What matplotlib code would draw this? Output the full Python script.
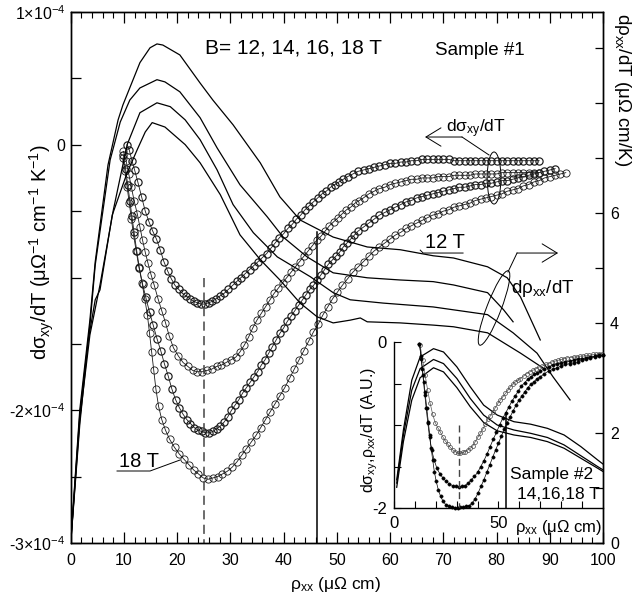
import numpy as np
import matplotlib
matplotlib.use('Agg')
import matplotlib.pyplot as plt
from matplotlib.patches import Ellipse
from matplotlib.lines import Line2D
from matplotlib.ticker import MultipleLocator, FixedLocator

plt.rcParams['font.family'] = ['Liberation Sans', 'DejaVu Sans']
plt.rcParams['mathtext.fontset'] = 'custom'
plt.rcParams['mathtext.rm'] = 'Liberation Sans'
plt.rcParams['mathtext.it'] = 'Liberation Sans:italic'
plt.rcParams['mathtext.bf'] = 'Liberation Sans:bold'

# ---------------- data: main panel ----------------
# d(sigma_xy)/dT, left axis, in units of 1e-4 (uOhm^-1 cm^-1 K^-1), vs rho_xx
sxy_12T = [(10.6,0.0),(11.0,-0.04),(11.5,-0.12),(12.0,-0.19),(12.6,-0.28),(13.3,-0.39),
    (14.0,-0.50),(14.7,-0.58),(15.4,-0.65),(16.1,-0.71),(16.8,-0.79),(17.5,-0.88),(18.2,-0.95),
    (18.9,-1.01),(19.6,-1.06),(20.3,-1.09),(21.0,-1.12),(21.7,-1.14),(22.4,-1.16),(23.1,-1.18),
    (23.8,-1.19),(24.5,-1.20),(25.2,-1.20),(25.9,-1.19),(26.6,-1.18),(27.3,-1.16),(28.0,-1.14),
    (28.8,-1.12),(29.6,-1.09),(30.4,-1.06),(31.2,-1.03),(32.0,-1.00),(32.8,-0.97),(33.6,-0.94),
    (34.4,-0.91),(35.2,-0.88),(36.0,-0.85),(36.8,-0.82),(37.6,-0.78),(38.4,-0.74),(39.2,-0.70),
    (40.0,-0.67),(40.8,-0.63),(41.6,-0.60),(42.4,-0.56),(43.2,-0.53),(44.0,-0.49),(44.8,-0.46),
    (45.6,-0.43),(46.4,-0.40),(47.2,-0.37),(48.0,-0.35),(48.8,-0.32),(49.6,-0.30),(50.4,-0.28),
    (51.2,-0.26),(52.0,-0.24),(53,-0.22),(54,-0.20),(55,-0.19),(56,-0.18),(57,-0.17),(58,-0.16),
    (59,-0.15),(60,-0.14),(61,-0.14),(62,-0.13),(63,-0.13),(64,-0.12),(65,-0.12),(66,-0.11),
    (67,-0.11),(68,-0.11),(69,-0.11),(70,-0.11),(71,-0.11),(72,-0.12),(73,-0.12),(74,-0.12),
    (75,-0.12),(76,-0.12),(77,-0.12),(78,-0.12),(79,-0.12),(80,-0.12),(81,-0.12),(82,-0.12),
    (83,-0.12),(84,-0.12),(85,-0.12),(86,-0.12),(87,-0.12),(88,-0.12)]

sxy_14T = [(9.9,-0.05),(10.4,-0.12),(10.9,-0.22),(11.4,-0.32),(11.9,-0.42),(12.5,-0.52),
    (13.0,-0.62),(13.5,-0.72),(14.0,-0.81),(14.5,-0.89),(15.1,-0.98),(15.7,-1.06),(16.4,-1.16),
    (17.1,-1.25),(17.8,-1.34),(18.5,-1.44),(19.3,-1.53),(20.2,-1.59),(21.1,-1.64),(22.0,-1.67),
    (22.9,-1.70),(23.8,-1.71),(24.7,-1.71),(25.6,-1.70),(26.5,-1.69),(27.4,-1.67),(28.3,-1.66),
    (29.2,-1.64),(30.1,-1.62),(31.0,-1.60),(31.8,-1.56),(32.6,-1.51),(33.4,-1.45),(34.2,-1.38),
    (35.0,-1.32),(35.8,-1.27),(36.6,-1.22),(37.4,-1.17),(38.2,-1.12),(39.0,-1.08),(39.8,-1.04),
    (40.6,-1.00),(41.4,-0.96),(42.2,-0.92),(43.0,-0.88),(43.8,-0.84),(44.6,-0.80),(45.4,-0.76),
    (46.2,-0.72),(47.0,-0.69),(47.8,-0.65),(48.6,-0.61),(49.4,-0.58),(50.2,-0.55),(51.0,-0.52),
    (51.8,-0.49),(52.6,-0.47),(53.4,-0.44),(54.2,-0.42),(55.0,-0.40),(56,-0.37),(57,-0.35),
    (58,-0.33),(59,-0.32),(60,-0.30),(61,-0.29),(62,-0.28),(63,-0.27),(64,-0.26),(65,-0.26),
    (66,-0.25),(67,-0.25),(68,-0.25),(69,-0.24),(70,-0.24),(71,-0.24),(72,-0.23),(73,-0.23),
    (74,-0.23),(75,-0.23),(76,-0.22),(77,-0.22),(78,-0.22),(79,-0.22),(80,-0.22),(81,-0.21),
    (82,-0.21),(83,-0.21),(84,-0.21),(85,-0.21),(86,-0.21),(87,-0.21),(88,-0.21)]

sxy_16T = [(9.9,-0.08),(10.3,-0.18),(10.7,-0.30),(11.1,-0.42),(11.5,-0.54),(11.9,-0.66),
    (12.4,-0.80),(12.9,-0.93),(13.5,-1.05),(14.1,-1.15),(14.8,-1.26),(15.5,-1.36),(16.2,-1.46),
    (16.9,-1.55),(17.6,-1.65),(18.3,-1.74),(19.0,-1.84),(19.7,-1.92),(20.4,-1.98),(21.1,-2.03),
    (21.8,-2.07),(22.5,-2.10),(23.2,-2.13),(23.9,-2.15),(24.6,-2.16),(25.3,-2.17),(26.0,-2.17),
    (26.7,-2.16),(27.4,-2.14),(28.1,-2.12),(28.8,-2.09),(29.5,-2.05),(30.2,-2.00),(30.9,-1.96),
    (31.6,-1.92),(32.3,-1.87),(33.0,-1.83),(33.7,-1.79),(34.4,-1.75),(35.1,-1.71),(35.8,-1.66),
    (36.5,-1.62),(37.2,-1.57),(37.9,-1.52),(38.6,-1.47),(39.3,-1.42),(40.0,-1.38),(40.7,-1.33),
    (41.4,-1.29),(42.1,-1.25),(42.8,-1.21),(43.5,-1.17),(44.2,-1.13),(44.9,-1.09),(45.6,-1.06),
    (46.3,-1.02),(47.0,-0.98),(47.7,-0.94),(48.4,-0.90),(49.1,-0.87),(49.8,-0.84),(50.5,-0.81),
    (51.2,-0.77),(51.9,-0.74),(52.6,-0.71),(53.3,-0.68),(54.0,-0.65),(55,-0.62),(56,-0.59),
    (57,-0.56),(58,-0.53),(59,-0.51),(60,-0.49),(61,-0.47),(62,-0.45),(63,-0.43),(64,-0.42),
    (65,-0.40),(66,-0.39),(67,-0.38),(68,-0.37),(69,-0.36),(70,-0.35),(71,-0.34),(72,-0.33),
    (73,-0.32),(74,-0.32),(75,-0.31),(76,-0.30),(77,-0.30),(78,-0.29),(79,-0.29),(80,-0.28),
    (81,-0.27),(82,-0.27),(83,-0.26),(84,-0.25),(85,-0.24),(86,-0.23),(87,-0.22),(88,-0.21),
    (89,-0.20),(90,-0.19),(91,-0.18)]

sxy_18T = [(9.8,-0.10),(10.2,-0.20),(10.6,-0.32),(11.0,-0.44),(11.4,-0.56),(11.8,-0.68),
    (12.3,-0.80),(12.8,-0.92),(13.4,-1.04),(13.9,-1.16),(14.4,-1.28),(14.8,-1.42),(15.2,-1.56),
    (15.6,-1.70),(16.0,-1.84),(16.5,-1.97),(17.1,-2.07),(17.8,-2.15),(18.6,-2.22),(19.5,-2.28),
    (20.4,-2.33),(21.3,-2.37),(22.2,-2.41),(23.1,-2.45),(24.0,-2.48),(24.9,-2.51),(25.8,-2.52),
    (26.7,-2.51),(27.6,-2.50),(28.5,-2.48),(29.4,-2.46),(30.3,-2.43),(31.2,-2.39),(32.1,-2.34),
    (33.0,-2.29),(33.9,-2.24),(34.8,-2.19),(35.7,-2.13),(36.6,-2.07),(37.5,-2.01),(38.4,-1.95),
    (39.3,-1.89),(40.2,-1.83),(41.1,-1.76),(42.0,-1.69),(42.9,-1.62),(43.8,-1.55),(44.7,-1.48),
    (45.6,-1.41),(46.5,-1.35),(47.4,-1.28),(48.3,-1.22),(49.2,-1.16),(50.1,-1.11),(51.0,-1.06),
    (52.0,-1.01),(53.0,-0.96),(54.0,-0.92),(55.0,-0.88),(56.0,-0.84),(57.0,-0.80),(58.0,-0.77),
    (59.0,-0.74),(60.0,-0.71),(61,-0.68),(62,-0.66),(63,-0.63),(64,-0.61),(65,-0.59),(66,-0.57),
    (67,-0.55),(68,-0.53),(69,-0.52),(70,-0.50),(71,-0.49),(72,-0.47),(73,-0.46),(74,-0.45),
    (75,-0.44),(76,-0.42),(77,-0.41),(78,-0.40),(79,-0.39),(80,-0.38),(81,-0.37),(82,-0.35),
    (83,-0.34),(84,-0.33),(85,-0.31),(86,-0.30),(87,-0.28),(88,-0.27),(89,-0.25),(90,-0.24),
    (91,-0.23),(92,-0.22),(93,-0.21)]

# d(rho_xx)/dT, right axis (uOhm cm/K), vs rho_xx
rxx_12T = [(0,0),(1.7,2.42),(3.6,4.05),(4.6,5.11),(7.0,6.87),(8.9,7.69),(9.8,7.96),(13.0,8.73),
    (14.9,9.0),(16.2,9.07),(17.3,9.05),(20.5,8.87),(24.3,8.36),(26.7,8.05),(30.5,7.6),(35.6,6.91),
    (39.3,6.29),(43.1,5.87),(49.3,5.56),(55.7,5.38),(61.9,5.33),(68.1,5.22),(71.9,5.18),
    (78.3,5.02),(82.0,4.82),(84.5,4.47),(88.2,3.69)]
rxx_14T = [(0,0),(1.7,2.33),(3.6,3.95),(4.6,5.05),(7.4,6.96),(9.3,7.65),(11.1,8.05),(13.0,8.27),
    (16.2,8.42),(17.7,8.38),(20.5,8.2),(24.3,7.73),(27.5,7.18),(31.8,6.51),(36.9,5.93),
    (39.9,5.56),(44.4,5.2),(49.3,4.91),(55.7,4.82),(61.9,4.78),(68.1,4.75),(71.9,4.69),
    (78.3,4.55),(81.3,4.24),(83.1,4.02)]
rxx_16T = [(0,0),(1.7,2.24),(3.6,3.78),(5.5,4.69),(8.0,6.05),(10.6,7.24),(13.0,7.82),(16.2,8.0),
    (18.7,7.93),(21.5,7.69),(24.3,7.33),(27.5,6.78),(30.5,6.15),(34.3,5.64),(38.8,5.2),
    (45.0,4.84),(49.3,4.55),(52.5,4.42),(58.7,4.36),(68.1,4.29),(78.3,4.15),(83.1,3.82),
    (87.6,3.45),(90.6,3.02),(93.8,2.6)]
rxx_18T = [(0,0),(1.7,2.15),(3.3,3.69),(4.6,4.42),(5.5,4.6),(7.8,5.96),(10.6,6.73),(12.5,7.15),
    (14.0,7.47),(15.3,7.64),(17.7,7.56),(21.5,7.24),(24.3,6.91),(28.1,6.33),(31.8,5.6),
    (35.6,5.15),(39.3,4.78),(43.1,4.36),(46.3,4.11),(49.3,4.0),(52.5,4.05),(54.4,4.09),
    (55.7,4.02),(61.9,4.0),(68.1,3.96),(71.9,3.93),(78.3,3.82),(84.5,3.45),(89.2,3.15)]

# reference lines
dash_x, dash_top = 25.0, -1.0        # dashed line (left-axis units 1e-4)
vline_x, vline_top = 46.2, 5.65      # solid line (right-axis units)

# ---------------- data: inset (sample #2) ----------------
ins_line_x = [1.3,4.5,8.5,12.5,18.9,23.7,30.1,36.5,42.9,49.4,57.4,65.4,73.4,81.4,89.4,97.4,100]
ins_line_14T = [-1.66,-1.06,-0.46,-0.18,-0.08,-0.12,-0.30,-0.54,-0.76,-0.88,-0.96,-0.99,-1.04,-1.12,-1.26,-1.42,-1.47]
ins_line_16T = [-1.70,-1.12,-0.58,-0.32,-0.21,-0.26,-0.44,-0.68,-0.88,-1.00,-1.06,-1.10,-1.15,-1.24,-1.37,-1.50,-1.54]
ins_line_18T = [-1.75,-1.20,-0.70,-0.43,-0.31,-0.36,-0.55,-0.78,-0.97,-1.07,-1.12,-1.15,-1.20,-1.28,-1.40,-1.52,-1.56]

ins_sxy_14T = [(12.5,-0.04),(13.7,-0.22),(14.9,-0.40),(16.1,-0.58),(17.3,-0.74),(18.5,-0.87),
    (19.7,-0.97),(20.9,-1.03),(22.1,-1.08),(23.3,-1.14),(24.5,-1.19),(25.7,-1.23),(26.9,-1.27),
    (28.1,-1.30),(29.3,-1.32),(30.5,-1.34),(31.7,-1.34),(32.9,-1.33),(34.1,-1.32),(35.3,-1.30),
    (36.5,-1.28),(37.7,-1.25),(38.9,-1.20),(40.1,-1.15),(41.3,-1.10),(42.5,-1.05),(43.7,-0.99),
    (44.9,-0.93),(46.1,-0.89),(47.3,-0.84),(48.5,-0.79),(49.7,-0.74),(50.9,-0.70),(52.1,-0.66),
    (53.3,-0.62),(54.5,-0.58),(55.7,-0.54),(56.9,-0.51),(58.1,-0.48),(59.3,-0.46),(60.5,-0.44),
    (62,-0.41),(63.5,-0.38),(65,-0.36),(66.5,-0.34),(68,-0.32),(69.5,-0.30),(71,-0.29),
    (72.5,-0.27),(74,-0.26),(75.5,-0.24),(77,-0.23),(78.5,-0.22),(80,-0.21),(81.5,-0.20),
    (83,-0.19),(84.5,-0.19),(86,-0.18),(87.5,-0.18),(89,-0.17),(90.5,-0.17),(92,-0.16),
    (93.5,-0.16),(95,-0.15),(96.5,-0.15),(98,-0.14),(99.5,-0.14)]
ins_sxy_16T = [(12.2,-0.02),(13.0,-0.20),(13.8,-0.40),(14.6,-0.60),(15.4,-0.80),(16.2,-0.98),
    (17.0,-1.15),(18.0,-1.30),(19.2,-1.42),(20.5,-1.52),(22.0,-1.59),(23.5,-1.64),(25.0,-1.68),
    (26.5,-1.71),(28.0,-1.73),(29.5,-1.74),(31.0,-1.75),(32.5,-1.74),(34.0,-1.73),(35.5,-1.70),
    (37.0,-1.66),(38.5,-1.62),(40.0,-1.57),(41.5,-1.50),(43.0,-1.43),(44.5,-1.35),(46.0,-1.26),
    (47.5,-1.17),(49.0,-1.09),(50.5,-1.00),(52.0,-0.92),(53.5,-0.85),(55.0,-0.78),(56.5,-0.71),
    (58.0,-0.65),(59.5,-0.59),(61,-0.53),(62.5,-0.49),(64,-0.45),(65.5,-0.42),(67,-0.39),
    (68.5,-0.37),(70,-0.35),(72,-0.32),(74,-0.30),(76,-0.28),(78,-0.27),(80,-0.25),(82,-0.24),
    (84,-0.23),(86,-0.22),(88,-0.21),(90,-0.20),(92,-0.19),(94,-0.18),(96,-0.17),(98,-0.16),
    (100,-0.16)]
ins_sxy_18T = [(12.2,-0.02),(12.9,-0.17),(13.6,-0.32),(14.3,-0.48),(15.0,-0.64),(15.7,-0.80),
    (16.4,-0.96),(17.1,-1.12),(17.8,-1.28),(18.5,-1.42),(19.3,-1.56),(20.2,-1.68),(21.2,-1.78),
    (22.3,-1.86),(23.5,-1.92),(24.8,-1.96),(26.2,-1.98),(27.6,-1.99),(29.0,-2.0),(30.4,-2.0),
    (31.8,-1.99),(33.2,-1.99),(34.6,-1.98),(36.0,-1.97),(37.4,-1.94),(38.8,-1.89),(40.2,-1.82),
    (41.6,-1.74),(43.0,-1.66),(44.4,-1.57),(45.8,-1.48),(47.2,-1.39),(48.6,-1.30),(50.0,-1.22),
    (51.4,-1.13),(52.8,-1.05),(54.2,-0.97),(55.6,-0.90),(57.0,-0.83),(58.4,-0.76),(59.8,-0.70),
    (61.2,-0.65),(62.6,-0.60),(64.0,-0.55),(65.5,-0.51),(67,-0.48),(68.5,-0.44),(70,-0.42),
    (72,-0.38),(74,-0.35),(76,-0.33),(78,-0.31),(80,-0.29),(82,-0.27),(84,-0.26),(86,-0.25),
    (88,-0.24),(90,-0.22),(92,-0.21),(94,-0.19),(96,-0.18),(98,-0.17),(100,-0.16)]
ins_dash_x, ins_dash_top = 30.9, -1.0
ins_vline_x, ins_vline_top = 53.8, -0.86

SCALE = 1e-4

# ---------------- figure ----------------
fig = plt.figure(figsize=(6.36, 6.01), dpi=100)
ax = fig.add_axes([0.1112, 0.0965, 0.837, 0.8835])
ax2 = ax.twinx()

INK = '#1a1a1a'
for s, mew in ((sxy_12T, 0.85), (sxy_14T, 0.6), (sxy_16T, 0.85), (sxy_18T, 0.6)):
    a = np.array(s)
    ax.plot(a[:, 0], a[:, 1] * SCALE, '-', color=INK, lw=0.6, marker='o', ms=5.2,
            mfc='none', mec=INK, mew=mew)

for s in (rxx_12T, rxx_14T, rxx_16T, rxx_18T):
    a = np.array(s)
    ax2.plot(a[:, 0], a[:, 1], '-', color='black', lw=0.9)

ax.plot([dash_x, dash_x], [dash_top * SCALE, -3e-4], '--', color='#444444', lw=1.1,
        dashes=(6, 3.5))
ax2.plot([vline_x, vline_x], [0, vline_top], '-', color='black', lw=1.1)

ax.set_xlim(0, 100)
ax.set_ylim(-3e-4, 1e-4)
ax2.set_ylim(0, 9.65)

ax.xaxis.set_major_locator(MultipleLocator(10))
ax.xaxis.set_minor_locator(MultipleLocator(2))
ax.tick_params(axis='x', which='both', direction='in', top=True, bottom=True, labelsize=11.5, pad=7)
ax.tick_params(axis='x', which='major', length=8, width=0.9)
ax.tick_params(axis='x', which='minor', length=4.5, width=0.8)

ax.yaxis.set_major_locator(FixedLocator([-3e-4, -2e-4, -1e-4, 0, 1e-4]))
ax.yaxis.set_minor_locator(FixedLocator([-2.5e-4, -1.5e-4, -0.5e-4, 0.5e-4]))
ax.set_yticklabels(['-3×10$^{\\mathrm{-4}}$', '-2×10$^{\\mathrm{-4}}$', '',
                    '0', '1×10$^{\\mathrm{-4}}$'])
ax.tick_params(axis='y', which='both', direction='in', right=False, length=7, width=0.9,
               labelsize=11.5, pad=4)

ax2.yaxis.set_major_locator(FixedLocator([0, 2, 4, 6]))
ax2.yaxis.set_minor_locator(FixedLocator([1, 3, 5, 7, 8, 9]))
ax2.tick_params(axis='y', which='both', direction='in', length=6, width=0.9, labelsize=11.5, pad=5)

for a_ in (ax, ax2):
    for sp in a_.spines.values():
        sp.set_linewidth(1.0)

ax.set_ylabel('dσ$_{\\mathrm{xy}}$/dT (μΩ$^{\\mathrm{-1}}$ cm$^{\\mathrm{-1}}$ K$^{\\mathrm{-1}}$)',
              fontsize=14.5)
ax.yaxis.set_label_coords(-0.028, 0.548)
fig.text(0.528, 0.012, 'ρ$_{\\mathrm{xx}}$ (μΩ cm)', fontsize=12.5, ha='center', va='bottom')
fig.text(0.978, 0.978, 'dρ$_{\\mathrm{xx}}$/dT (μΩ cm/K)', fontsize=13.5,
         rotation=270, ha='center', va='top')

# annotations (axes-fraction coordinates)
T = ax.transAxes
ax.text(0.2523, 0.9228, 'B= 12, 14, 16, 18 T', transform=T, fontsize=15, ha='left', va='baseline')
ax.text(0.6844, 0.919, 'Sample #1', transform=T, fontsize=13.5, ha='left', va='baseline')
ax.text(0.762, 0.774, 'dσ$_{\\mathrm{xy}}$/dT', transform=T, fontsize=12.5, ha='center', va='baseline')
ax.text(0.8875, 0.4708, 'dρ$_{\\mathrm{xx}}$/dT', transform=T, fontsize=13.5, ha='center', va='baseline')
ax.text(0.703, 0.5556, '12 T', transform=T, fontsize=14.5, ha='center', va='baseline')
ax.add_line(Line2D([0.6566, 0.662, 0.737], [0.5516, 0.5461, 0.5461], transform=T, color='black', lw=0.7))
ax.text(0.1283, 0.1431, '18 T', transform=T, fontsize=14.5, ha='center', va='baseline')
ax.add_line(Line2D([0.087, 0.149, 0.2053], [0.1356, 0.1356, 0.1563], transform=T, color='black', lw=0.7))

arrow_kw = dict(arrowstyle='->,head_length=0.9,head_width=0.55', lw=0.7, color='black',
                shrinkA=0, shrinkB=0, mutation_scale=12)
ax.annotate('', xy=(0.6656, 0.7646), xytext=(0.7351, 0.7646), xycoords=T, textcoords=T, arrowprops=arrow_kw)
ax.add_line(Line2D([0.7351, 0.7858], [0.7646, 0.7307], transform=T, color='black', lw=0.7))
ax.add_patch(Ellipse((0.7952, 0.6874), 0.026, 0.098, angle=0, transform=T, fill=False, lw=0.7, ec='black'))

ax.annotate('', xy=(0.9155, 0.5461), xytext=(0.8384, 0.5461), xycoords=T, textcoords=T, arrowprops=arrow_kw)
ax.add_line(Line2D([0.8384, 0.8214], [0.5461, 0.5104], transform=T, color='black', lw=0.7))
ax.add_patch(Ellipse((0.7952, 0.4426), 0.15, 0.027, angle=69, transform=T, fill=False, lw=0.7, ec='black'))

# ---------------- inset ----------------
axi = fig.add_axes([0.6195, 0.1547, 0.3286, 0.2762])
axi.patch.set_alpha(0)
axi.spines['top'].set_visible(False)
axi.spines['right'].set_visible(False)
for sp in ('left', 'bottom'):
    axi.spines[sp].set_linewidth(1.0)
axi.set_xlim(0, 100)
axi.set_ylim(-2, 0)

for ys in (ins_line_14T, ins_line_16T, ins_line_18T):
    axi.plot(ins_line_x, ys, '-', color='black', lw=0.9, clip_on=False)
a = np.array(ins_sxy_14T)
axi.plot(a[:, 0], a[:, 1], '-', color='#555555', lw=0.5, marker='o', ms=2.8, mfc='none',
         mec='#444444', mew=0.5, clip_on=False)
for s in (ins_sxy_16T, ins_sxy_18T):
    a = np.array(s)
    axi.plot(a[:, 0], a[:, 1], '-', color='black', lw=0.5, marker='o', ms=2.4, mfc='black',
             mec='black', mew=0.3, clip_on=False)
axi.plot([ins_dash_x, ins_dash_x], [ins_dash_top, -2], '--', color='#444444', lw=1.0, dashes=(5, 3))
axi.plot([ins_vline_x, ins_vline_x], [ins_vline_top, -2], '-', color='black', lw=1.1)

axi.xaxis.set_major_locator(FixedLocator([0, 50]))
axi.xaxis.set_minor_locator(FixedLocator([10, 20, 30, 40, 60, 70, 80, 90]))
axi.tick_params(axis='x', which='both', direction='in', length=5, width=0.8, labelsize=12, pad=6)
axi.yaxis.set_major_locator(FixedLocator([-2, 0]))
axi.yaxis.set_minor_locator(FixedLocator([-1.5, -1, -0.5]))
axi.tick_params(axis='y', which='both', direction='in', length=5, width=0.8, labelsize=12, pad=5)
axi.set_yticklabels(['-2', '0'])
axi.set_ylabel('dσ$_{\\mathrm{xy}}$,ρ$_{\\mathrm{xx}}$/dT (A.U.)', fontsize=11.5, labelpad=1)
axi.yaxis.set_label_coords(-0.065, 0.47)
fig.text(0.81, 0.123, 'ρ$_{\\mathrm{xx}}$ (μΩ cm)', fontsize=12, ha='left', va='center')
ax.text(0.981, 0.1205, 'Sample #2', transform=T, fontsize=12.5, ha='right', va='baseline')
ax.text(0.994, 0.0829, '14,16,18 T', transform=T, fontsize=12.5, ha='right', va='baseline')

fig.savefig('out.png', dpi=100)
